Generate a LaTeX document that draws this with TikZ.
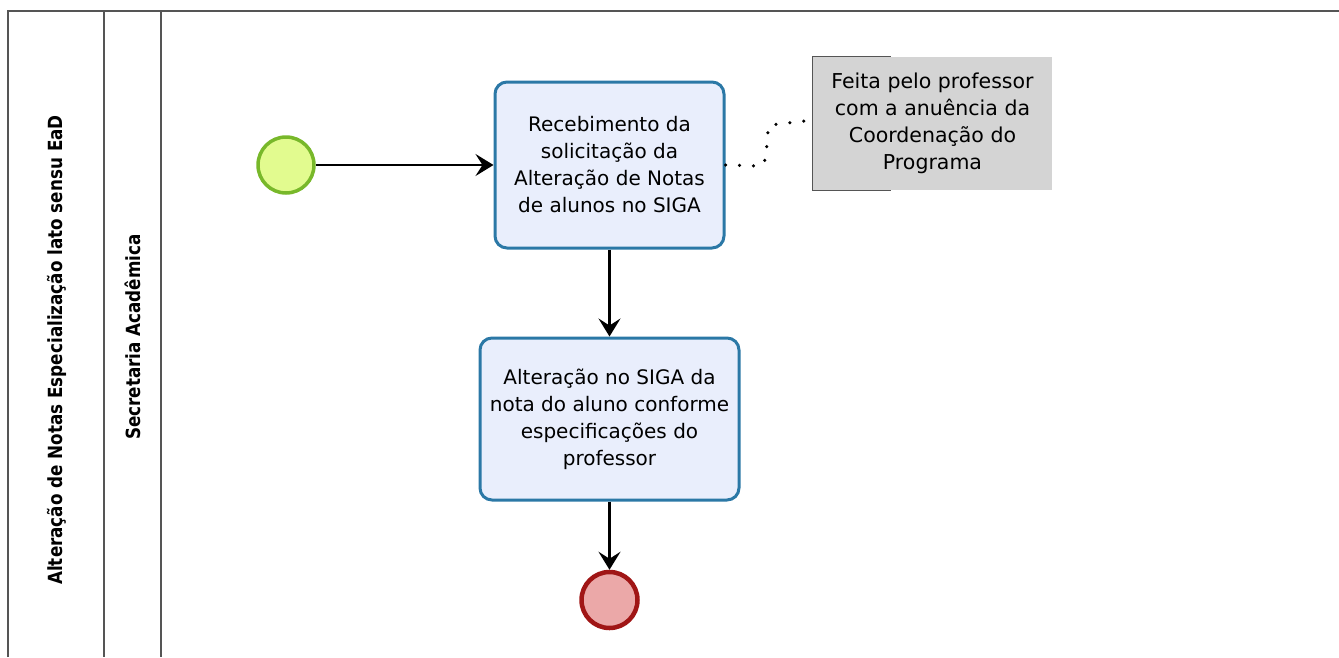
\documentclass[tikz,border=0pt]{standalone}
\usepackage{fontspec}
\setmainfont{DejaVu Sans}
\newfontfamily\lanefont[FakeStretch=0.86]{DejaVu Sans}
\usetikzlibrary{arrows.meta}
\definecolor{startfill}{HTML}{E2FB8F}
\definecolor{startline}{HTML}{78B82A}
\definecolor{endfill}{HTML}{EBA8A8}
\definecolor{endline}{HTML}{A01515}
\definecolor{taskfill}{HTML}{E9EEFC}
\definecolor{taskline}{HTML}{2B78A6}
\definecolor{notefill}{HTML}{D4D4D4}
\definecolor{frameline}{HTML}{555555}
\tikzset{
  frame/.style={draw=frameline, line width=2pt},
  lanelabel/.style={rotate=90, font=\lanefont\bfseries\fontsize{19.5}{22}\selectfont},
  startev/.style={circle, draw=startline, fill=startfill, line width=3.5pt, minimum size=56pt, inner sep=0pt},
  endev/.style={circle, draw=endline, fill=endfill, line width=4.5pt, minimum size=56pt, inner sep=0pt},
  task/.style={draw=taskline, fill=taskfill, line width=3pt, rounded corners=12pt, align=center,
               font=\fontsize{20}{27}\selectfont, inner sep=0pt},
  note/.style={fill=notefill, align=center, font=\fontsize{20.5}{27}\selectfont, inner sep=0pt},
  flow/.style={draw=black, line width=2.2pt, -{Stealth[length=18pt,width=22pt,inset=7pt]}},
  assoc/.style={draw=black, line width=3.5pt, line cap=round, dash pattern=on 0pt off 14pt},
}
\begin{document}
\begin{tikzpicture}[x=1pt,y=-1pt]
\useasboundingbox (0,0) rectangle (1339,657);
% pool frame
\draw[frame] (8,657) -- (8,11) -- (1339,11);
\draw[frame] (104,11) -- (104,657);
\draw[frame] (161,11) -- (161,657);
\node[lanelabel] (pool) at (57,350) {Alteração de Notas Especialização lato sensu EaD};
\node[lanelabel] (lane) at (133,337) {Secretaria Acadêmica};
% nodes
\node[startev] (start) at (286,165) {};
\node[task, minimum width=229pt, minimum height=166pt] (t1) at (609.5,165)
  {Recebimento da\\solicitação da\\Alteração de Notas\\de alunos no SIGA};
\node[task, minimum width=259pt, minimum height=162pt] (t2) at (609.5,419)
  {Alteração no SIGA da\\nota do aluno conforme\\especificações do\\professor};
\node[endev] (end) at (609.5,600) {};
\node[note, minimum width=239pt, minimum height=133pt] (nt) at (932.5,123.5)
  {Feita pelo professor\\com a anuência da\\Coordenação do\\Programa};
\draw[frameline, line width=1.2pt] ([xshift=78pt]nt.north west) -- (nt.north west) -- (nt.south west) -- ([xshift=78pt]nt.south west);
% flows
\draw[flow] (start) -- (t1);
\draw[flow] (t1) -- (t2);
\draw[flow] (t2) -- (end);
\draw[assoc] (t1.east) -- (760,166) .. controls (770,162) and (764,140) .. (770,125) -- (nt.west |- 0,120);
\end{tikzpicture}
\end{document}
